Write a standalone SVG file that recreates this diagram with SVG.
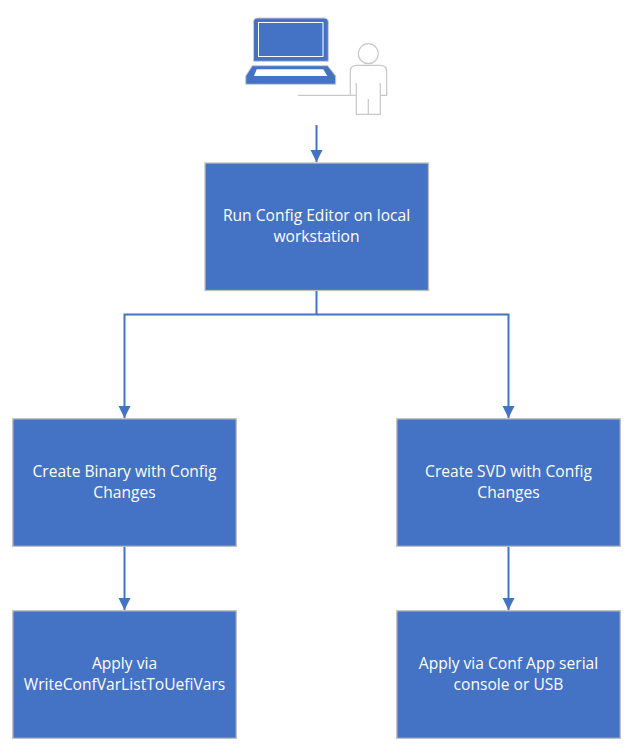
<svg xmlns="http://www.w3.org/2000/svg" width="628" height="745" viewBox="0 0 628 745">
<style>
.box{fill:#4472c4;stroke:#bfbfbf;stroke-width:1.3}
.t{font-family:"Open Sans","Noto Sans",sans-serif;font-size:15.6px;fill:#fff;text-anchor:middle}
.c{fill:none;stroke:#4472c4;stroke-width:2}
.g{fill:none;stroke:#c8c8c8;stroke-width:1.2}
</style>
<defs><marker id="a" markerUnits="userSpaceOnUse" markerWidth="12" markerHeight="13" refX="12" refY="6" orient="auto"><path d="M0 0L12 6L0 12Z" fill="#4472c4"/></marker></defs>
<rect width="628" height="745" fill="#fff"/>
<g id="laptop">
<path d="M257.500 18H324Q328.300 18 328.300 22.500V61.300H253.500V22.500Q253.500 18 257.500 18Z" fill="#4472c4" stroke="#c8ccd4" stroke-width="1"/>
<rect x="258.500" y="22.500" width="64.500" height="34" fill="#4472c4" stroke="#fff" stroke-width="1"/>
<path d="M252.300 65.700H327.700L335.700 76V84.300H245.700V76Z" fill="#4472c4" stroke="#c8ccd4" stroke-width="1"/>
<path d="M256.700 69.300H323.300L327.300 76H254Z" fill="#fff"/>
</g>
<g id="person">
<circle cx="368.300" cy="53.700" r="10" class="g"/>
<path d="M298 95.300H350.300V71.500Q350.300 65.300 356.500 65.300H380.500Q386.700 65.300 386.700 71.500V95.300H380.300M356.300 83V114.300H380.300V83M368.300 99V114.300" class="g"/>
<path d="M350.300 95.300H356.300" class="g"/>
</g>
<g id="connectors">
<path class="c" d="M316.500 125V162" marker-end="url(#a)"/>
<path class="c" d="M316.500 291V314.500H124.500V418" marker-end="url(#a)"/>
<path class="c" d="M316.500 314.500H508.500V418" marker-end="url(#a)"/>
<path class="c" d="M124.500 546V610" marker-end="url(#a)"/>
<path class="c" d="M508.500 546V610" marker-end="url(#a)"/>
</g>
<g id="n1"><rect class="box" x="205" y="163" width="223.500" height="127.500"/><text class="t" x="316.500" y="221">Run Config Editor on local</text><text class="t" x="316.500" y="242">workstation</text></g>
<g id="n2"><rect class="box" x="12.800" y="418.800" width="223.500" height="127.500"/><text class="t" x="124.500" y="477">Create Binary with Config</text><text class="t" x="124.500" y="498">Changes</text></g>
<g id="n3"><rect class="box" x="396.800" y="418.800" width="223.500" height="127.500"/><text class="t" x="508.500" y="477">Create SVD with Config</text><text class="t" x="508.500" y="498">Changes</text></g>
<g id="n4"><rect class="box" x="12.800" y="610.800" width="223.500" height="127.500"/><text class="t" x="124.500" y="669">Apply via</text><text class="t" x="124.500" y="690">WriteConfVarListToUefiVars</text></g>
<g id="n5"><rect class="box" x="396.800" y="610.800" width="223.500" height="127.500"/><text class="t" x="508.500" y="669">Apply via Conf App serial</text><text class="t" x="508.500" y="690">console or USB</text></g>
</svg>
